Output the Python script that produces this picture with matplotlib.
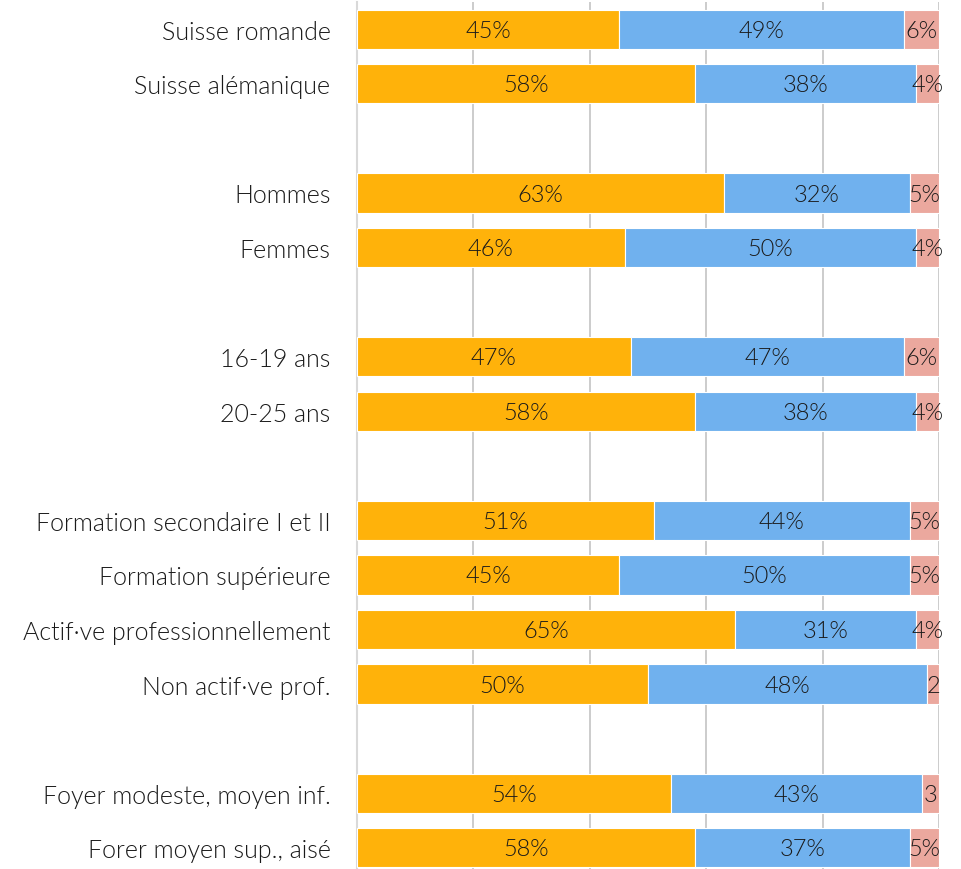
import matplotlib
matplotlib.use("Agg")
import matplotlib.pyplot as plt
from matplotlib import font_manager
import numpy as np

# Lato Light if it can be found, else regular Lato
light = [f.fname for f in font_manager.fontManager.ttflist
         if f.name == "Lato" and f.fname.endswith("Lato-Light.ttf")]
if light:
    FONT = font_manager.FontProperties(fname=light[0])
else:
    FONT = font_manager.FontProperties(family="Lato")

# rows; empty strings are spacer rows between groups
categories = ["Suisse romande", "Suisse alémanique", "",
              "Hommes", "Femmes", "",
              "16-19 ans", "20-25 ans", "",
              "Formation secondaire I et II", "Formation supérieure",
              "Actif·ve professionnellement", "Non actif·ve prof.", "",
              "Foyer modeste, moyen inf.", "Forer moyen sup., aisé"]
oui = [45, 58, None, 63, 46, None, 47, 58, None, 51, 45, 65, 50, None, 54, 58]
non = [49, 38, None, 32, 50, None, 47, 38, None, 44, 50, 31, 48, None, 43, 37]
nsp = [6, 4, None, 5, 4, None, 6, 4, None, 5, 5, 4, 2, None, 3, 5]
nsp_labels = ["6%", "4%", "", "5%", "4%", "", "6%", "4%", "",
              "5%", "5%", "4%", "2", "", "3", "5%"]

colors = ["#FFB20A", "#70B1EE", "#EBA89E"]

fig = plt.figure(figsize=(9.61, 8.70), dpi=100)
ax = fig.add_axes([357 / 961, -6 / 870, 582 / 961, 873 / 870])

ypos = np.arange(len(categories))
rows = [i for i, v in enumerate(oui) if v is not None]
left = np.zeros(len(categories))
for series, col in zip([oui, non, nsp], colors):
    vals = np.array([series[i] for i in rows], dtype=float)
    ax.barh(ypos[rows], vals, left=left[rows], height=0.72, color=col,
            edgecolor="white", linewidth=0.8, zorder=3)
    for i, v in zip(rows, vals):
        cx = left[i] + v / 2
        txt = nsp_labels[i] if series is nsp else f"{v:.0f}%"
        ax.text(cx, i + 0.02, txt, ha="center", va="center", fontproperties=FONT,
                fontsize=17, color="#1A1A1A", zorder=4, clip_on=False)
    left[rows] += vals

ax.set_xlim(0, 100)
ax.set_ylim(len(categories) - 0.5, -0.5)
ax.set_xticks([20, 40, 60, 80, 100])
ax.tick_params(axis="x", length=0, labelbottom=False)
ax.grid(axis="x", color="#C4C4C4", linewidth=1.2, zorder=0)
ax.set_yticks(ypos)
ax.set_yticklabels(categories, fontproperties=FONT, fontsize=18,
                   color="#1A1A1A")
ax.tick_params(axis="y", length=0, pad=19)
for s in ["top", "right", "bottom"]:
    ax.spines[s].set_visible(False)
ax.spines["left"].set_color("#D9D9D9")
ax.spines["left"].set_linewidth(1.5)

fig.savefig("out.png", dpi=100)
